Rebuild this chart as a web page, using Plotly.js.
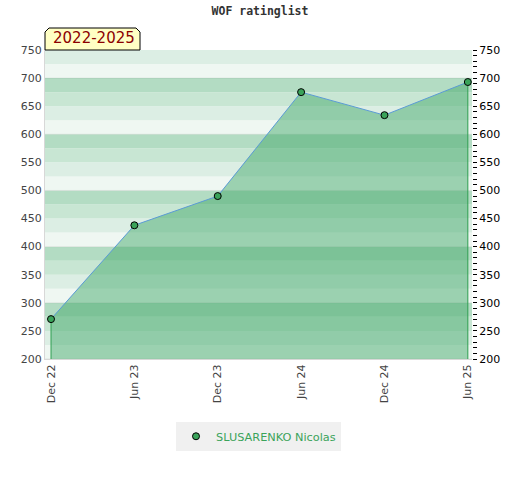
<!DOCTYPE html>
<html><head><meta charset="utf-8">
<script src="https://cdn.plot.ly/plotly-3.0.1.min.js"></script>
<style>html,body{margin:0;padding:0;background:#fff}#chart{width:520px;height:480px}</style>
</head><body><div id="chart"></div>
<script>
const categories = ["Dec 22","Jun 23","Dec 23","Jun 24","Dec 24","Jun 25"];
const ratings = [271, 438, 490, 675, 634, 693];
const playerName = "SLUSARENKO Nicolas";
const chartTitle = "WOF ratinglist";
const periodLabel = "2022-2025";
const yMin = 200, yMax = 750;

const bandColors = {75:"#b3dcc3",50:"#c8e6d3",25:"#dceee4",0:"#eff7f2"};
const shapes = [];
for (let lo = yMin; lo < yMax; lo += 25) {
  shapes.push({type:"rect", xref:"paper", yref:"y", x0:0, x1:1, y0:lo, y1:lo+25,
    fillcolor:bandColors[lo % 100], line:{width:0}, layer:"below"});
}
for (let v = yMin; v <= yMax; v += 100) {
  shapes.push({type:"line", xref:"paper", yref:"y", x0:0, x1:1, y0:v, y1:v,
    line:{color:"rgba(0,0,0,0.07)", width:1}, layer:"below"});
}
// label tab with cut corners
shapes.push({type:"path", xref:"paper", yref:"paper", xsizemode:"pixel", ysizemode:"pixel",
  xanchor:0, yanchor:1, path:"M0,0 L0,18 L4,22 L91,22 L95,18 L95,0 Z",
  fillcolor:"#ffffc4", line:{color:"#000", width:1}, layer:"above"});

const n = categories.length;
const edgeX = [categories[0], categories[0], null, categories[n-1], categories[n-1]];
const edgeY = [yMin, ratings[0], null, yMin, ratings[n-1]];

const traces = [
  {x:categories, y:ratings, type:"scatter", mode:"lines", fill:"tozeroy",
   fillcolor:"rgba(62,166,103,0.47)", line:{color:"rgba(0,0,0,0)", width:0},
   showlegend:false, hoverinfo:"skip"},
  {x:edgeX, y:edgeY, type:"scatter", mode:"lines", line:{color:"#2e9e50", width:1},
   showlegend:false, hoverinfo:"skip"},
  {x:categories, y:ratings, type:"scatter", mode:"lines",
   line:{color:"#5b9bd5", width:1}, showlegend:false, hoverinfo:"skip"},
  {x:categories, y:ratings, type:"scatter", mode:"markers", name:playerName,
   marker:{size:7, color:"#3aa35a", line:{color:"#000", width:1}}},
  {x:categories, y:ratings, type:"scatter", mode:"markers", yaxis:"y2",
   marker:{opacity:0}, showlegend:false, hoverinfo:"skip"}
];

const layout = {
  width:520, height:480,
  margin:{l:45, r:48, t:50, b:121},
  paper_bgcolor:"#fff", plot_bgcolor:"#fff",
  title:{text:chartTitle, x:0.5, xanchor:"center", y:0.985, yanchor:"top",
    font:{family:"DejaVu Sans Mono", size:11.5, color:"#333", weight:"bold"}},
  xaxis:{type:"category", categoryarray:categories, range:[-0.072, 5.05],
    tickangle:-90, tickfont:{family:"DejaVu Sans", size:11, color:"#444"},
    showgrid:false, zeroline:false, showline:true, linecolor:"#d8d8d8", linewidth:1,
    ticks:"", fixedrange:true},
  yaxis:{range:[yMin, yMax], dtick:50, tick0:0, showgrid:false, zeroline:false,
    showline:true, linecolor:"#d8d8d8", linewidth:1, ticks:"",
    tickfont:{family:"DejaVu Sans", size:11, color:"#444"}},
  yaxis2:{range:[yMin, yMax], dtick:50, tick0:0, overlaying:"y", side:"right",
    showgrid:false, zeroline:false, showline:false, ticks:"outside", ticklen:4,
    tickcolor:"#000", tickwidth:1,
    minor:{dtick:10, ticks:"outside", ticklen:4, tickcolor:"#000", tickwidth:1, showgrid:false},
    tickfont:{family:"DejaVu Sans", size:11, color:"#000"}},
  shapes:shapes,
  annotations:[{text:periodLabel, xref:"paper", yref:"paper", x:0, y:1,
    xanchor:"left", yanchor:"bottom", xshift:6, yshift:1, showarrow:false,
    font:{family:"DejaVu Sans", size:15, color:"#8b0000"}}],
  showlegend:true,
  legend:{orientation:"h", x:0.5, xanchor:"center", y:-0.25, yanchor:"middle",
    itemwidth:30, bgcolor:"#f0f0f0",
    font:{family:"DejaVu Sans", size:11.3, color:"#3aa35a"}}
};
Plotly.newPlot("chart", traces, layout, {displayModeBar:false, staticPlot:true});
</script></body></html>
